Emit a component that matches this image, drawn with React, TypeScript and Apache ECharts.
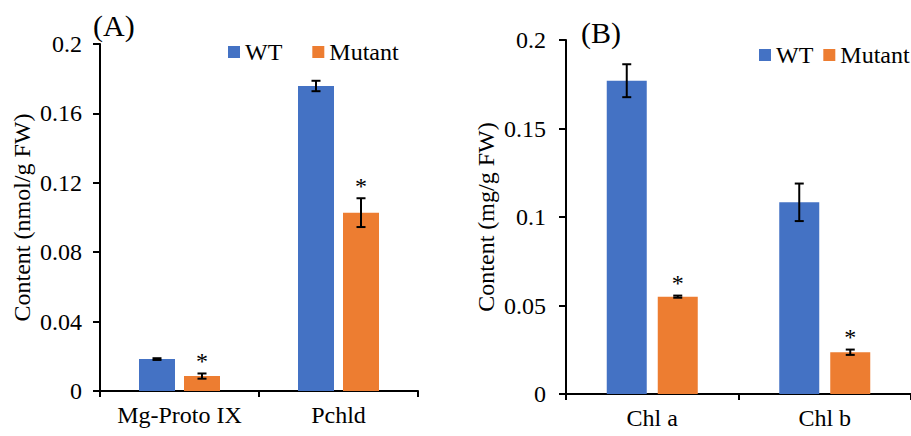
import React, { useEffect, useRef } from "react";
import * as echarts from "echarts";

const FONT = '"Liberation Serif", "Times New Roman", serif';
const BLUE = "#4472C4";
const ORANGE = "#ED7D31";

// Panel A
const catsA = ["Mg-Proto IX", "Pchld"];
const wtA = [0.0184, 0.1758];
const wtErrA = [0.0005, 0.003];
const mutA = [0.0086, 0.1028];
const mutErrA = [0.0015, 0.0083];
const mutSigA = [true, true];
const ticksA = [0, 0.04, 0.08, 0.12, 0.16, 0.2];

// Panel B
const catsB = ["Chl a", "Chl b"];
const wtB = [0.177, 0.1083];
const wtErrB = [0.0093, 0.0106];
const mutB = [0.055, 0.0236];
const mutErrB = [0.0006, 0.0015];
const mutSigB = [true, true];
const ticksB = [0, 0.05, 0.1, 0.15, 0.2];

const fmt = (v: number) => String(+v.toFixed(4));

function errSeries(
  idx: number,
  vals: number[],
  errs: number[],
  sig: boolean[],
  offset: number
) {
  return {
    type: "custom",
    xAxisIndex: idx,
    yAxisIndex: idx,
    z: 10,
    silent: true,
    encode: { x: 0, y: 1 },
    data: vals.map((v, i) => [i, v, errs[i], sig[i] ? 1 : 0]),
    renderItem: (params: any, api: any) => {
      const x = api.value(0);
      const v = api.value(1);
      const e = api.value(2);
      const s = api.value(3);
      const top = api.coord([x, v + e]);
      const bot = api.coord([x, v - e]);
      const cx = top[0] + offset;
      const hw = 4.5;
      const st = { stroke: "#000", lineWidth: 2 };
      const children: any[] = [
        { type: "line", shape: { x1: cx, y1: top[1], x2: cx, y2: bot[1] }, style: st },
        { type: "line", shape: { x1: cx - hw, y1: top[1], x2: cx + hw, y2: top[1] }, style: st },
        { type: "line", shape: { x1: cx - hw, y1: bot[1], x2: cx + hw, y2: bot[1] }, style: st },
      ];
      if (s) {
        children.push({
          type: "text",
          x: cx,
          y: top[1] - 0.5,
          style: {
            text: "*",
            fontFamily: FONT,
            fontSize: 24,
            fill: "#000",
            align: "center",
            verticalAlign: "bottom",
          },
        });
      }
      return { type: "group", children };
    },
  };
}

export default function App() {
  const ref = useRef<HTMLDivElement>(null);
  useEffect(() => {
    if (!ref.current) return;
    const chart = echarts.init(ref.current, undefined, { renderer: "svg" });
    const axisLine = { show: true, lineStyle: { color: "#000", width: 2 } };
    const axisTick = { show: true, length: 7, lineStyle: { color: "#000", width: 2 } };
    const lbl = { fontFamily: FONT, fontSize: 24, color: "#000" };
    const bwA = 36, bgA = 9;
    const bwB = 40, bgB = 11;
    const option: any = {
      animation: false,
      backgroundColor: "#fff",
      title: [
        { text: "(A)", left: 88, top: 5, textStyle: { fontFamily: FONT, fontSize: 30, fontWeight: "normal", color: "#000" } },
        { text: "(B)", left: 576, top: 12, textStyle: { fontFamily: FONT, fontSize: 30, fontWeight: "normal", color: "#000" } },
      ],
      legend: [
        {
          data: ["WT", "Mutant"], left: 228, top: 40, width: 300, padding: 0, itemWidth: 12, itemHeight: 12,
          itemGap: 30, icon: "rect", textStyle: lbl,
        },
        {
          data: ["WT", "Mutant"], left: 759, top: 43, width: 300, padding: 0, itemWidth: 12, itemHeight: 12,
          itemGap: 10, icon: "rect", textStyle: lbl,
        },
      ],
      grid: [
        { left: 100, top: 44, width: 318, height: 347 },
        { left: 566, top: 40, width: 350, height: 354 },
      ],
      xAxis: [
        {
          type: "category", gridIndex: 0, data: catsA, axisLine, axisTick: { ...axisTick, length: 6 },
          axisLabel: { ...lbl, margin: 12, interval: 0 },
        },
        {
          type: "category", gridIndex: 1, data: catsB, axisLine, axisTick: { ...axisTick, length: 6 },
          axisLabel: { ...lbl, margin: 12, interval: 0 },
        },
      ],
      yAxis: [
        {
          type: "value", gridIndex: 0, min: ticksA[0], max: ticksA[ticksA.length - 1], interval: ticksA[1] - ticksA[0],
          axisLine, axisTick, splitLine: { show: false },
          axisLabel: { ...lbl, margin: 18, formatter: fmt },
          name: "Content (nmol/g FW)", nameLocation: "middle", nameGap: 66, nameTextStyle: lbl,
        },
        {
          type: "value", gridIndex: 1, min: ticksB[0], max: ticksB[ticksB.length - 1], interval: ticksB[1] - ticksB[0],
          axisLine, axisTick, splitLine: { show: false },
          axisLabel: { ...lbl, margin: 20, formatter: fmt },
          name: "Content (mg/g FW)", nameLocation: "middle", nameGap: 68, nameTextStyle: lbl,
        },
      ],
      series: [
        { type: "bar", name: "WT", xAxisIndex: 0, yAxisIndex: 0, data: wtA, barWidth: bwA, barGap: `${(bgA / bwA) * 100}%`, itemStyle: { color: BLUE } },
        { type: "bar", name: "Mutant", xAxisIndex: 0, yAxisIndex: 0, data: mutA, barWidth: bwA, barGap: `${(bgA / bwA) * 100}%`, itemStyle: { color: ORANGE } },
        { type: "bar", name: "WT", xAxisIndex: 1, yAxisIndex: 1, data: wtB, barWidth: bwB, barGap: `${(bgB / bwB) * 100}%`, itemStyle: { color: BLUE } },
        { type: "bar", name: "Mutant", xAxisIndex: 1, yAxisIndex: 1, data: mutB, barWidth: bwB, barGap: `${(bgB / bwB) * 100}%`, itemStyle: { color: ORANGE } },
        errSeries(0, wtA, wtErrA, [false, false], -(bwA + bgA) / 2),
        errSeries(0, mutA, mutErrA, mutSigA, (bwA + bgA) / 2),
        errSeries(1, wtB, wtErrB, [false, false], -(bwB + bgB) / 2),
        errSeries(1, mutB, mutErrB, mutSigB, (bwB + bgB) / 2),
      ],
    };
    chart.setOption(option);
    return () => chart.dispose();
  }, []);
  return (
    <div
      ref={ref}
      style={{ position: "absolute", left: 0, top: 0, width: 911, height: 436 }}
    />
  );
}
